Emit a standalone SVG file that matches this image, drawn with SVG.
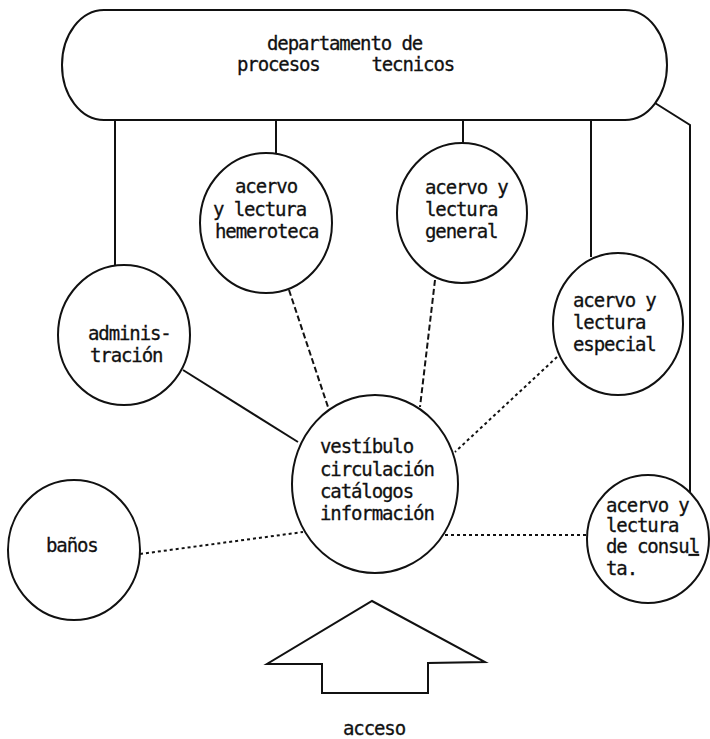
<svg xmlns="http://www.w3.org/2000/svg" width="710" height="739" viewBox="0 0 710 739">
<style>
  .node { fill: #ffffff; stroke: #111111; stroke-width: 2; }
  .lbl { font-family: "DejaVu Sans Mono", "Liberation Mono", monospace; font-size: 19px; letter-spacing: -1.1px; fill: #111111; stroke: #111111; stroke-width: 0.3; white-space: pre; }
  .solid { fill: none; stroke: #111111; stroke-width: 2; }
  .dash { fill: none; stroke: #111111; stroke-width: 2; stroke-dasharray: 6 3; }
  .dot { fill: none; stroke: #111111; stroke-width: 2; stroke-dasharray: 3 3; }
</style>
<rect width="710" height="739" fill="#ffffff"/>
<g id="connectors">
  <line class="solid" x1="115" y1="120" x2="115" y2="266"/>
  <line class="solid" x1="276" y1="120" x2="276" y2="154"/>
  <line class="solid" x1="463" y1="120" x2="463" y2="144"/>
  <line class="solid" x1="591" y1="120" x2="591" y2="257"/>
  <polyline class="solid" points="655,103 690,125 690,492"/>
  <line class="solid" x1="183" y1="370" x2="298" y2="442"/>
  <line class="dash" x1="289" y1="290" x2="328" y2="407"/>
  <line class="dash" x1="435" y1="280" x2="420" y2="407"/>
  <line class="dot" x1="557" y1="357" x2="455" y2="452"/>
  <line class="dot" x1="140" y1="554" x2="303" y2="532"/>
  <line class="dot" x1="445" y1="535" x2="588" y2="535"/>
</g>
<g id="departamento">
  <rect class="node" x="62" y="10" width="605" height="110" rx="42" ry="55"/>
  <text class="lbl" x="267" y="50">departamento de</text>
  <text class="lbl" x="237" y="71" xml:space="preserve">procesos     tecnicos</text>
</g>
<g id="hemeroteca">
  <ellipse class="node" cx="266" cy="223" rx="66" ry="70"/>
  <text class="lbl" x="235" y="193">acervo</text>
  <text class="lbl" x="213" y="216">y lectura</text>
  <text class="lbl" x="215" y="238">hemeroteca</text>
</g>
<g id="general">
  <ellipse class="node" cx="462" cy="213" rx="65" ry="70"/>
  <text class="lbl" x="425" y="194">acervo y</text>
  <text class="lbl" x="425" y="216">lectura</text>
  <text class="lbl" x="425" y="238">general</text>
</g>
<g id="especial">
  <ellipse class="node" cx="618" cy="324" rx="65" ry="71"/>
  <text class="lbl" x="573" y="307">acervo y</text>
  <text class="lbl" x="573" y="329">lectura</text>
  <text class="lbl" x="573" y="351">especial</text>
</g>
<g id="administracion">
  <ellipse class="node" cx="124" cy="335" rx="66" ry="70"/>
  <text class="lbl" x="88" y="340">adminis-</text>
  <text class="lbl" x="90" y="362">tración</text>
</g>
<g id="vestibulo">
  <ellipse class="node" cx="375" cy="484" rx="83" ry="89"/>
  <text class="lbl" x="320" y="453">vestíbulo</text>
  <text class="lbl" x="320" y="476">circulación</text>
  <text class="lbl" x="320" y="498">catálogos</text>
  <text class="lbl" x="320" y="520">información</text>
</g>
<g id="banos">
  <ellipse class="node" cx="74" cy="550" rx="66" ry="70"/>
  <text class="lbl" x="46" y="552">baños</text>
</g>
<g id="consulta">
  <ellipse class="node" cx="648" cy="539" rx="61" ry="64"/>
  <text class="lbl" x="606" y="512">acervo y</text>
  <text class="lbl" x="606" y="532">lectura</text>
  <text class="lbl" x="606" y="553">de consu<tspan text-decoration="underline">l</tspan></text>
  <text class="lbl" x="606" y="575">ta.</text>
</g>
<g id="acceso">
  <polygon class="node" points="372,601 485,662 428,663 428,693 322,693 322,664 267,664"/>
  <text class="lbl" x="343" y="735">acceso</text>
</g>
</svg>
